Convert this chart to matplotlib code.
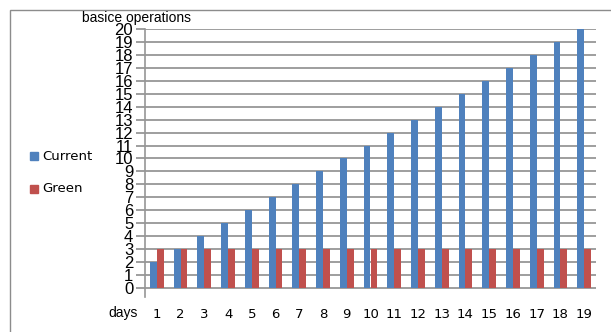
import numpy as np
import matplotlib
matplotlib.use('Agg')
import matplotlib.pyplot as plt
from matplotlib.patches import Rectangle

days = list(range(1, 20))
current = [2, 3, 4, 5, 6, 7, 8, 9, 10, 11, 12, 13, 14, 15, 16, 17, 18, 19, 20]
green = [3] * 19
yticks = list(range(0, 21))

blue = '#4f81bd'
red = '#c0504d'
grey = '#969696'

fig = plt.figure(figsize=(6.11, 3.32), dpi=100)

# outer chart frame (runs off the right and bottom)
fig.patches.append(Rectangle((10/611, -0.1), 1.2, 1 - 10/332 + 0.1,
                             transform=fig.transFigure, fill=False,
                             edgecolor='#8c8c8c', lw=1.0))

ax = fig.add_axes([145/611, 1 - 297/332, 451/611, (297 - 29)/332])

x = np.arange(len(days))
w = 0.29
ax.bar(x - w/2, current, width=w, color=blue, zorder=3)
ax.bar(x + w/2, green, width=w, color=red, zorder=3)

ax.set_xlim(-0.5, len(days) - 0.5)
ax.set_ylim(-0.7, 20)

ax.set_yticks(yticks)
ax.set_yticklabels([str(v) for v in yticks], fontsize=12,
                   family=['Liberation Sans Narrow', 'Liberation Sans'])
ax.yaxis.grid(True, color=grey, lw=1.3, zorder=0)
ax.tick_params(axis='y', direction='out', length=6.5, width=1.3,
               color=grey, pad=2)

ax.set_xticks(x)
ax.set_xticklabels([str(d) for d in days], fontsize=9.5, family='DejaVu Sans')
ax.tick_params(axis='x', length=0, pad=8)

for s in ['top', 'right', 'bottom']:
    ax.spines[s].set_visible(False)
ax.spines['left'].set_color(grey)
ax.spines['left'].set_linewidth(1.2)

fig.text(82/611, 1 - 18/332, 'basice operations', fontsize=10,
         family='Liberation Sans', va='center', ha='left')
fig.text(123/611, 1 - 313/332, 'days', fontsize=10,
         family='Liberation Sans', va='center', ha='center')

# legend on the left
for yy, col, lab in [(156, blue, 'Current'), (189, red, 'Green')]:
    fig.patches.append(Rectangle((30/611, 1 - (yy + 4)/332), 8/611, 8/332,
                                 transform=fig.transFigure, color=col))
    fig.text(42/611, 1 - yy/332, lab, fontsize=9.5, family='DejaVu Sans',
             va='center', ha='left')

fig.savefig('out.png', dpi=100)
